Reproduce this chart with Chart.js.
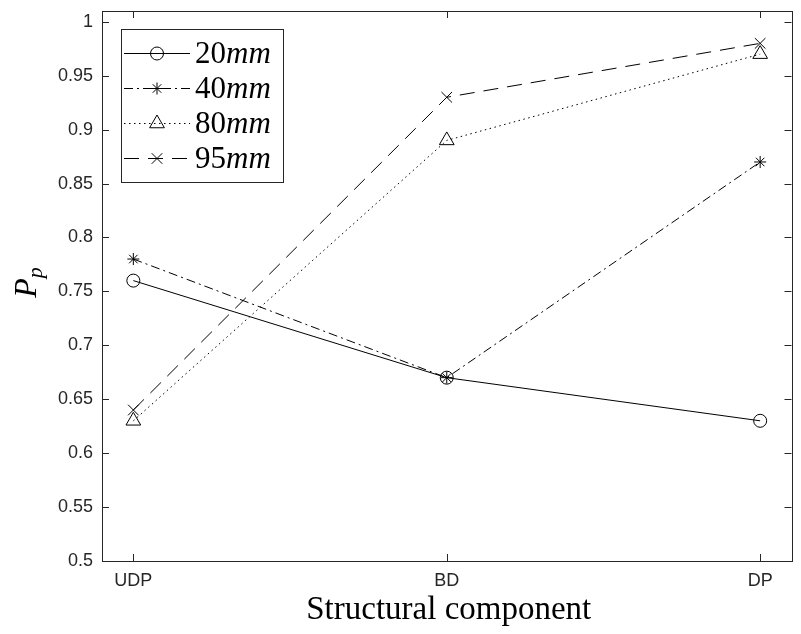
<!DOCTYPE html>
<html>
<head>
<meta charset="utf-8">
<script src="https://cdn.jsdelivr.net/npm/chart.js@4.4.1/dist/chart.umd.min.js"></script>
<style>
html,body{margin:0;padding:0;background:#fff;}
#wrap{width:801px;height:634px;}
</style>
</head>
<body>
<div id="wrap"><canvas id="mainChart" width="801" height="634"></canvas></div>
<script>
// ================= DATA =================
const categories = ["UDP", "BD", "DP"]
const seriesNames = ["20", "40", "80", "95"]
const s20mm = [0.76, 0.67, 0.63]
const s40mm = [0.78, 0.67, 0.87]
const s80mm = [0.63, 0.89, 0.97]
const s95mm = [0.64, 0.93, 0.98]
const yTicks = [0.5, 0.55, 0.6, 0.65, 0.7, 0.75, 0.8, 0.85, 0.9, 0.95, 1]
const xTicks = [1, 2, 3]

const axisColor = "#262626"
const serif = "'Liberation Serif', 'Times New Roman', serif"

function pts(arr){
return arr.map((v,i)=>({x:i+1, y:v}))
}

// ================= DATASETS =================
let datasets = [
{label:seriesNames[0], data:pts(s20mm), borderDash:[], pointStyle:"circle", pointRadius:6.5},
{label:seriesNames[1], data:pts(s40mm), borderDash:[9,4,2,4], pointStyle:"star", pointRadius:6},
{label:seriesNames[2], data:pts(s80mm), borderDash:[1.5,3.5], pointStyle:"triangle", pointRadius:8.5},
{label:seriesNames[3], data:pts(s95mm), borderDash:[15,9], pointStyle:"crossRot", pointRadius:7.5}
].map(d=>Object.assign(d,{
borderColor:"#000",
backgroundColor:"rgba(0,0,0,0)",
pointBorderColor:"#000",
pointBackgroundColor:"rgba(0,0,0,0)",
borderWidth:1,
pointBorderWidth:1,
pointHoverRadius:d.pointRadius,
tension:0
}))

// ================= FRAME / TITLES / LEGEND =================
const framePlugin = {
id:"frame",
afterDraw(chart){
let ctx = chart.ctx
let a = chart.chartArea
let xs = chart.scales.x, ys = chart.scales.y
ctx.save()
ctx.strokeStyle = axisColor
ctx.lineWidth = 1
ctx.setLineDash([])
ctx.strokeRect(Math.round(a.left)+0.5, Math.round(a.top)+0.5, Math.round(a.right-a.left), Math.round(a.bottom-a.top))

// inward ticks on all four sides
let tl = 7
ctx.beginPath()
xs.ticks.forEach(t=>{
let x = Math.round(xs.getPixelForValue(t.value))+0.5
ctx.moveTo(x, a.bottom); ctx.lineTo(x, a.bottom-tl)
ctx.moveTo(x, a.top); ctx.lineTo(x, a.top+tl)
})
ys.ticks.forEach(t=>{
let y = Math.round(ys.getPixelForValue(t.value))+0.5
ctx.moveTo(a.left, y); ctx.lineTo(a.left+tl, y)
ctx.moveTo(a.right, y); ctx.lineTo(a.right-tl, y)
})
ctx.stroke()

// x title
ctx.fillStyle = "#000"
ctx.font = "33px " + serif
ctx.textAlign = "center"
ctx.textBaseline = "alphabetic"
ctx.fillText("Structural component", (a.left+a.right)/2+2, 619)

// y title P_p
ctx.save()
ctx.translate(36, 282)
ctx.rotate(-Math.PI/2)
ctx.font = "italic 32px " + serif
ctx.textAlign = "left"
let pw = ctx.measureText("P").width
ctx.fillText("P", -pw/2-6, 0)
ctx.font = "italic 22px " + serif
ctx.fillText("p", pw/2-6, 6)
ctx.restore()

// legend
let bx = 121, by = 29, bw = 162, bh = 153
ctx.fillStyle = "#fff"
ctx.fillRect(bx, by, bw, bh)
ctx.strokeStyle = axisColor
ctx.strokeRect(bx+0.5, by+0.5, bw, bh)
chart.data.datasets.forEach((ds,i)=>{
let y = 52.5 + i*35.3
ctx.strokeStyle = "#000"
ctx.lineWidth = 1
ctx.setLineDash(ds.borderDash)
ctx.beginPath()
ctx.moveTo(124, Math.round(y)+0.5)
ctx.lineTo(190, Math.round(y)+0.5)
ctx.stroke()
ctx.setLineDash([])
ctx.fillStyle = "rgba(0,0,0,0)"
Chart.helpers.drawPoint(ctx, {pointStyle:ds.pointStyle, radius:ds.pointRadius, borderWidth:1, rotation:0}, 157, Math.round(y)+0.5)
ctx.fillStyle = "#000"
ctx.textAlign = "left"
ctx.textBaseline = "alphabetic"
ctx.font = "31px " + serif
ctx.fillText(ds.label, 195, y+10)
let w = ctx.measureText(ds.label).width
ctx.font = "italic 31px " + serif
ctx.fillText("mm", 195+w, y+10)
})
ctx.restore()
}
}

// ================= CHART =================
new Chart(document.getElementById("mainChart"),{
type:"line",
data:{datasets:datasets},
options:{
responsive:false,
animation:false,
events:[],
layout:{padding:{left:0, right:5, top:11, bottom:0}},
plugins:{legend:{display:false}, tooltip:{enabled:false}},
scales:{
x:{
type:"linear",
min:0.9, max:3.1,
grid:{display:false, drawTicks:false},
border:{display:false},
afterBuildTicks(s){ s.ticks = xTicks.map(v=>({value:v})) },
afterFit(s){ s.height = 73; s.paddingLeft = 0; s.paddingRight = 0 },
ticks:{
autoSkip:false, maxRotation:0, padding:9,
color:axisColor,
font:{family:"'Liberation Sans', Arial, sans-serif", size:18},
callback:(v)=>categories[v-1]
}
},
y:{
type:"linear",
min:0.5, max:1.01,
grid:{display:false, drawTicks:false},
border:{display:false},
afterBuildTicks(s){ s.ticks = yTicks.map(v=>({value:v})) },
afterFit(s){ s.width = 102; s.paddingTop = 0; s.paddingBottom = 0 },
ticks:{
autoSkip:false, padding:9,
color:axisColor,
font:{family:"'Liberation Sans', Arial, sans-serif", size:18},
callback:(v)=>String(v)
}
}
}
},
plugins:[framePlugin]
})
</script>
</body>
</html>
